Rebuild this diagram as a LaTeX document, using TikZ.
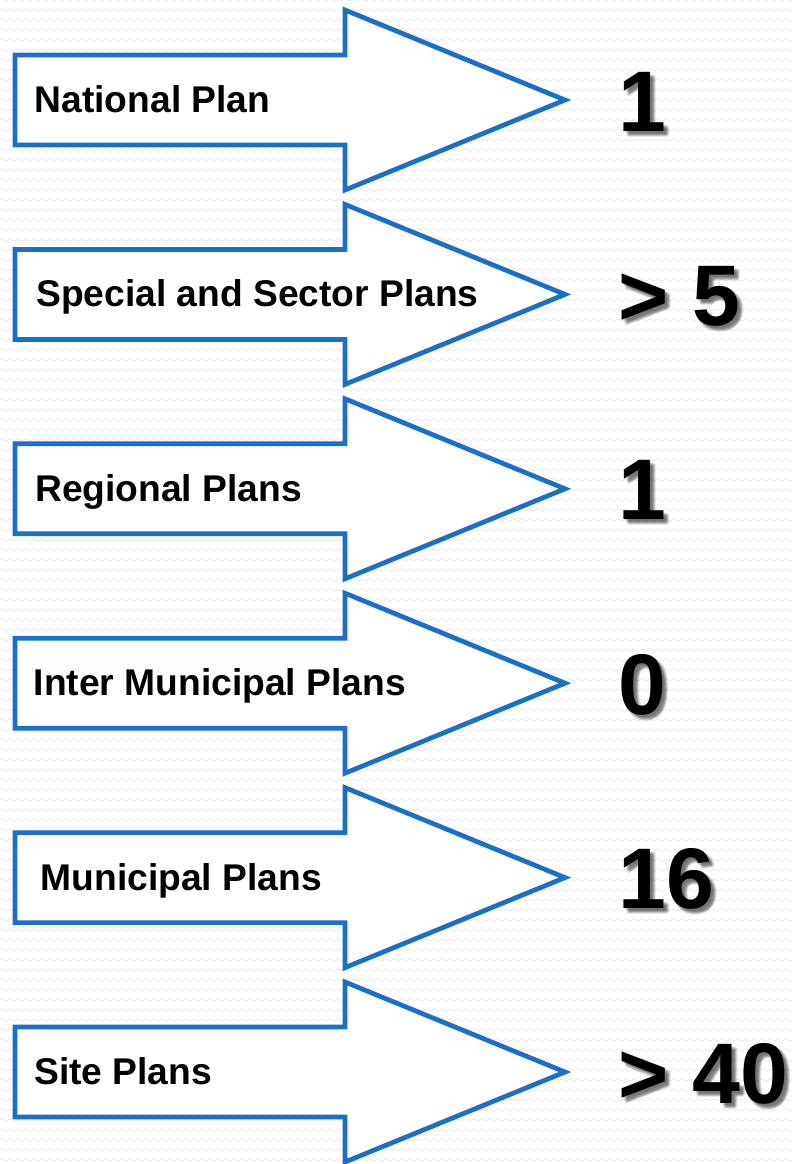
\documentclass[tikz,border=0pt]{standalone}
\usepackage{fontspec}
\setmainfont{Liberation Sans}
\usetikzlibrary{patterns}
\definecolor{arrowblue}{RGB}{26,111,200}
\definecolor{bgwave}{RGB}{236,236,236}
\pgfdeclarepatternformonly{bgwaves}{\pgfqpoint{-1pt}{-1pt}}{\pgfqpoint{9pt}{11pt}}{\pgfqpoint{8pt}{10pt}}{
  \pgfsetlinewidth{0.9pt}
  \pgfpathmoveto{\pgfqpoint{0pt}{4pt}}
  \pgfpathcurveto{\pgfqpoint{1pt}{5.5pt}}{\pgfqpoint{3pt}{5.5pt}}{\pgfqpoint{4pt}{4pt}}
  \pgfpathcurveto{\pgfqpoint{5pt}{2.5pt}}{\pgfqpoint{7pt}{2.5pt}}{\pgfqpoint{8pt}{4pt}}
  \pgfusepath{stroke}
}
\begin{document}
\begin{tikzpicture}[x=1pt,y=-1pt,
  blockarrow/.style={draw=arrowblue, line width=4.7pt, fill=white, line join=miter},
  lbl/.style={anchor=base west, inner sep=0pt, font=\bfseries\fontsize{37.2}{40}\selectfont},
  num/.style={anchor=base west, inner sep=0pt, font=\bfseries\fontsize{86}{90}\selectfont},
  numshadow/.style={num, text=black, text opacity=0.09}
  ]
\useasboundingbox (0,0) rectangle (792,1164);
\fill[white] (0,0) rectangle (792,1164);
\fill[pattern=bgwaves, pattern color=bgwave] (0,0) rectangle (792,1164);
\foreach \i/\c/\lx/\txt/\num in {
  1/100/34.5/National Plan/1,
  2/294.4/36/Special and Sector Plans/{> 5},
  3/488.8/35/Regional Plans/1,
  4/683.2/33.5/Inter Municipal Plans/0,
  5/877.6/40.5/Municipal Plans/16,
  6/1072/34/Site Plans/{> 40}} {
  \draw[blockarrow] (15,\c-45) -- (345,\c-45) -- (345,\c-90) -- (565,\c) -- (345,\c+90) -- (345,\c+45) -- (15,\c+45) -- cycle;
  \node[lbl] (lbl\i) at (\lx,\c+12.5) {\txt};
  \foreach \dx/\dy [count=\k] in {2/2,3/3,4/4,5/5,3/5,5/3,4/6,6/4} {
    \node[numshadow] (nums\i-\k) at (618+\dx,\c+31+\dy) {\num};
  }
  \node[num] (num\i) at (618,\c+31) {\num};
}
\end{tikzpicture}
\end{document}
